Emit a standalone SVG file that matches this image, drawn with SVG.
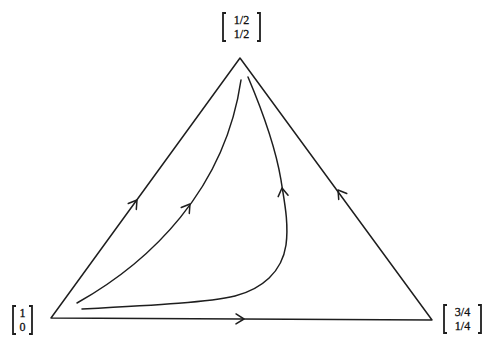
<svg xmlns="http://www.w3.org/2000/svg" width="488" height="341" viewBox="0 0 488 341">
<style>
.ln{fill:none;stroke:#1e1e1e;stroke-width:1.5;stroke-linecap:round;stroke-linejoin:round}
.br{fill:none;stroke:#1e1e1e;stroke-width:1.8}
.lb{font-family:"Liberation Serif","DejaVu Serif",serif;font-size:12px;fill:#111;text-anchor:middle;stroke:#111;stroke-width:0.3}
</style>
<defs>
<path id="chev" class="ln" d="M-8,-5 L0,0 L-8,5"/>
</defs>
<rect width="488" height="341" fill="#fff"/>
<g id="connectors">
<path class="ln" d="M51,318 L240,58 L432,320 Z"/>
<path class="ln" d="M77,303 C150,262 225,190 241,80"/>
<path class="ln" d="M82,309 C160,305 210,302 235,296 C262,289 282,272 286,245 C289,222 284,200 281,180 C276,150 262,110 248,77"/>
<use href="#chev" transform="translate(137,200) rotate(-53.8)"/>
<use href="#chev" transform="translate(244,319) rotate(0.3)"/>
<use href="#chev" transform="translate(338,190) rotate(-126.4)"/>
<use href="#chev" transform="translate(190,204) rotate(-53.7)"/>
<use href="#chev" transform="translate(282,188) rotate(-98)"/>
</g>
<g id="top">
<path class="br" d="M226,13 L223,13 L223,41 L226,41 M257,13 L260,13 L260,41 L257,41"/>
<text class="lb" x="241.5" y="23.5">1/2</text>
<text class="lb" x="241.5" y="37.5">1/2</text>
</g>
<g id="left">
<path class="br" d="M16,306 L13,306 L13,334 L16,334 M29,306 L32,306 L32,334 L29,334"/>
<text class="lb" x="22.5" y="316.5">1</text>
<text class="lb" x="22.5" y="330.5">0</text>
</g>
<g id="right">
<path class="br" d="M447,305 L444,305 L444,333 L447,333 M478,305 L481,305 L481,333 L478,333"/>
<text class="lb" x="462.5" y="315.5">3/4</text>
<text class="lb" x="462.5" y="329.5">1/4</text>
</g>
</svg>
